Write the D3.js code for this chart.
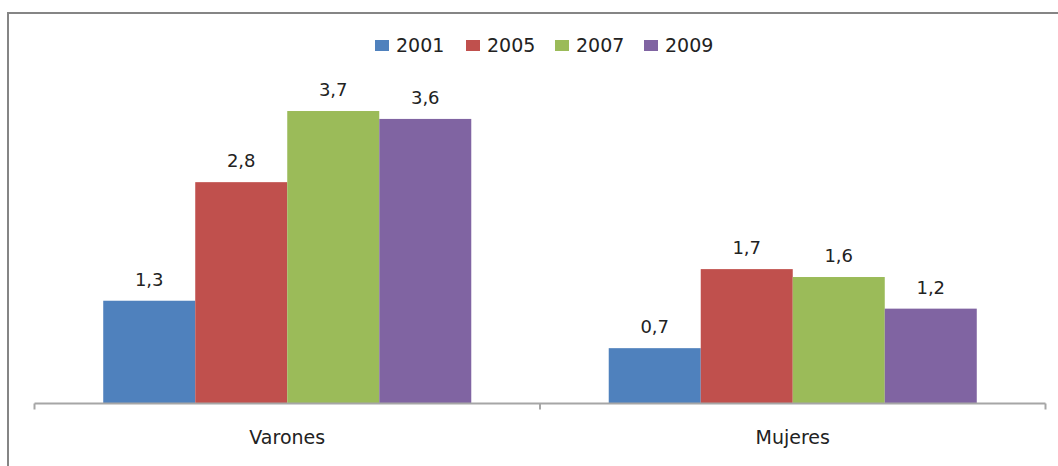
<!DOCTYPE html>
<html>
<head>
<meta charset="utf-8">
<script src="https://cdn.jsdelivr.net/npm/d3@7"></script>
<style>
  html, body { margin: 0; padding: 0; background: #fff; }
  svg { display: block; font-family: "DejaVu Sans", sans-serif; }
</style>
</head>
<body>
<svg id="chart" width="1058" height="466"></svg>
<script>
// Groups, years and values per year (decimal comma in labels)
const categories = ["Varones", "Mujeres"];
const years = ["2001", "2005", "2007", "2009"];
const values2001 = [1.3, 0.7];
const values2005 = [2.8, 1.7];
const values2007 = [3.7, 1.6];
const values2009 = [3.6, 1.2];
const colors = ["#4F81BD", "#C0504D", "#9BBB59", "#8064A2"];

const seriesValues = [values2001, values2005, values2007, values2009];
const series = years.map((y, i) => ({ year: y, color: colors[i], values: seriesValues[i] }));

const svg = d3.select("#chart");

// outer frame
svg.append("path")
  .attr("d", "M8,470 V13 H1062")
  .attr("fill", "none")
  .attr("stroke", "#858585")
  .attr("stroke-width", 2);

const x0 = d3.scaleBand().domain(categories).range([34.5, 1045.5]).paddingInner(0).paddingOuter(0);
const x1 = d3.scaleBand().domain(years).range([0, x0.bandwidth()]).paddingInner(0).paddingOuter(0.747);
const y = d3.scaleLinear().domain([0, 4]).range([403.5, 87.3]);

// bars with value labels
const g = svg.append("g");
categories.forEach((cat, ci) => {
  series.forEach(s => {
    const v = s.values[ci];
    const bx = x0(cat) + x1(s.year);
    g.append("rect")
      .attr("x", bx)
      .attr("y", y(v))
      .attr("width", x1.bandwidth())
      .attr("height", y(0) - y(v))
      .attr("fill", s.color);
    g.append("text")
      .attr("x", bx + x1.bandwidth() / 2)
      .attr("y", y(v) - 15)
      .attr("text-anchor", "middle")
      .attr("font-size", 18)
      .attr("fill", "#222")
      .text(d3.format(".1f")(v).replace(".", ","));
  });
});

// category axis
const axG = svg.append("g").attr("transform", "translate(0,403.5)");
axG.append("line").attr("x1", x0.range()[0]).attr("x2", x0.range()[1])
  .attr("stroke", "#a6a6a6").attr("stroke-width", 2);
// boundary ticks between categories
const bounds = [x0.range()[0], x0("Mujeres"), x0.range()[1]];
axG.selectAll("line.tk").data(bounds).enter().append("line")
  .attr("class", "tk")
  .attr("x1", d => d).attr("x2", d => d)
  .attr("y1", 0).attr("y2", 6)
  .attr("stroke", "#a6a6a6").attr("stroke-width", 2);
axG.selectAll("text.cat").data(categories).enter().append("text")
  .attr("class", "cat")
  .attr("x", d => x0(d) + x0.bandwidth() / 2)
  .attr("y", 40)
  .attr("text-anchor", "middle")
  .attr("font-size", 19)
  .attr("fill", "#222")
  .text(d => d);

// legend
const legendX = [375, 466, 555, 644];
const lg = svg.append("g");
series.forEach((s, i) => {
  lg.append("rect").attr("x", legendX[i]).attr("y", 40).attr("width", 14).attr("height", 11).attr("fill", s.color);
  lg.append("text").attr("x", legendX[i] + 21).attr("y", 52)
    .attr("font-size", 19).attr("fill", "#222").text(s.year);
});
</script>
</body>
</html>
